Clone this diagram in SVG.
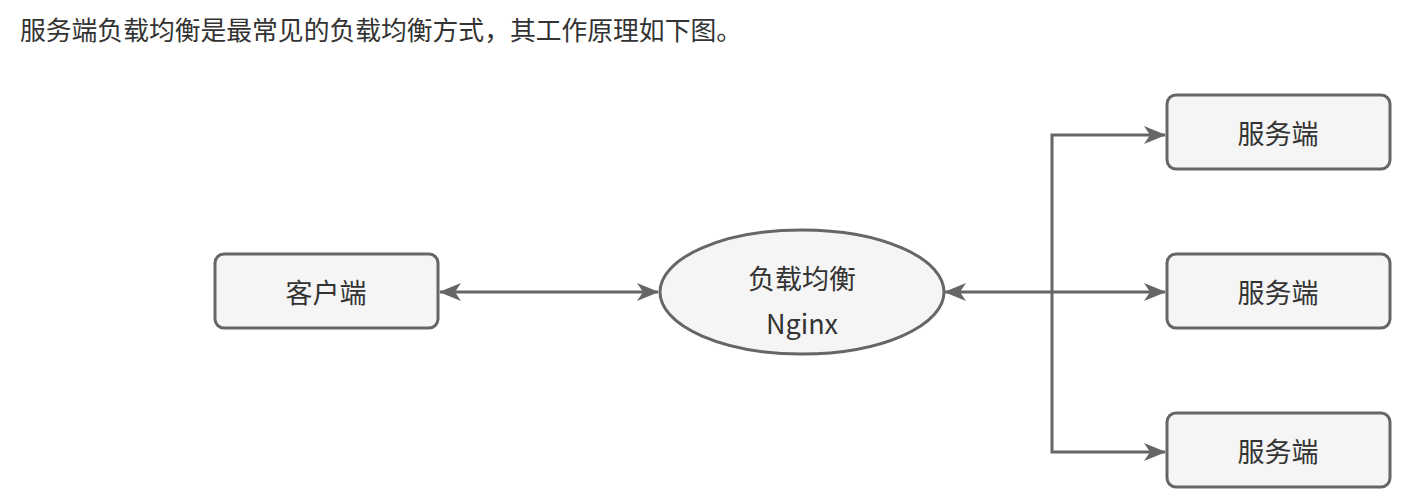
<svg xmlns="http://www.w3.org/2000/svg" width="1412" height="504" viewBox="0 0 1412 504">
<style>
.node{fill:#f5f5f5;stroke:#666;stroke-width:3}
.lbl{font-family:"Microsoft YaHei","Noto Sans CJK SC",sans-serif;font-size:27px;fill:#333;text-anchor:middle;dominant-baseline:central}
.edge{fill:none;stroke:#666;stroke-width:3}
</style>
<defs>
<marker id="ah" viewBox="0 0 22 18" refX="21" refY="9" markerWidth="22" markerHeight="18" markerUnits="userSpaceOnUse" orient="auto-start-reverse">
<path d="M0,0 L22,9 L0,18 L6,9 Z" fill="#666"/>
</marker>
</defs>
<rect width="1412" height="504" fill="#fff"/>
<text x="20" y="40" font-family="Microsoft YaHei,'Noto Sans CJK SC',sans-serif" font-size="26" fill="#333" textLength="722" lengthAdjust="spacingAndGlyphs">服务端负载均衡是最常见的负载均衡方式，其工作原理如下图。</text>
<g id="connectors">
<line class="edge" x1="440" y1="292" x2="658" y2="292" marker-start="url(#ah)" marker-end="url(#ah)"/>
<line class="edge" x1="945" y1="292" x2="1165" y2="292" marker-start="url(#ah)" marker-end="url(#ah)"/>
<polyline class="edge" points="1052,292 1052,135 1165,135" marker-end="url(#ah)"/>
<polyline class="edge" points="1052,292 1052,452 1165,452" marker-end="url(#ah)"/>
</g>
<g id="client">
<rect class="node" x="215" y="254" width="223" height="74" rx="9"/>
<text class="lbl" x="326" y="291">客户端</text>
</g>
<g id="nginx">
<ellipse class="node" cx="802" cy="292" rx="142" ry="62"/>
<text class="lbl" x="802" y="277">负载均衡</text>
<text class="lbl" x="802" y="322" font-family="'Segoe UI','Open Sans',sans-serif">Nginx</text>
</g>
<g id="server1">
<rect class="node" x="1167" y="95" width="223" height="74" rx="9"/>
<text class="lbl" x="1278" y="132">服务端</text>
</g>
<g id="server2">
<rect class="node" x="1167" y="254" width="223" height="74" rx="9"/>
<text class="lbl" x="1278" y="291">服务端</text>
</g>
<g id="server3">
<rect class="node" x="1167" y="413" width="223" height="74" rx="9"/>
<text class="lbl" x="1278" y="450">服务端</text>
</g>
</svg>
